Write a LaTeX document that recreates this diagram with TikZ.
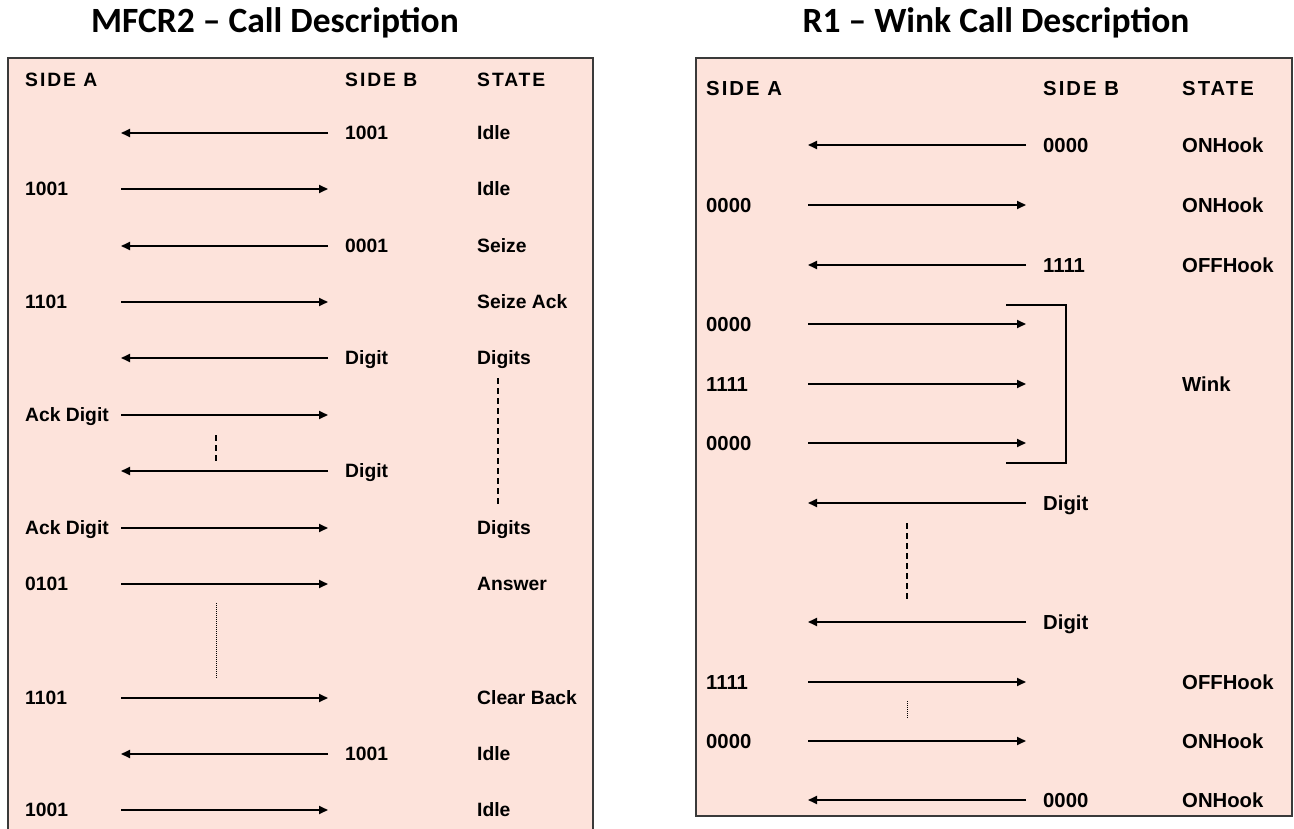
\documentclass[tikz,border=0pt]{standalone}
\usepackage{fontspec}
\usetikzlibrary{arrows.meta}
\newfontfamily\titlefont{Carlito}
\newfontfamily\cellfont{Liberation Sans}
\newfontfamily\hdrfont{Liberation Sans}[LetterSpace=10]
\definecolor{panelfill}{RGB}{253,227,219}
\definecolor{panelline}{RGB}{58,58,58}
\tikzset{
  panel/.style={fill=panelfill,draw=panelline,line width=2pt},
  ttl/.style={anchor=base,inner sep=0,font=\titlefont\bfseries\fontsize{35.5}{40}\selectfont},
  hdrL/.style={anchor=base west,inner sep=0,font=\hdrfont\bfseries\fontsize{19.3}{22}\selectfont},
  hdrR/.style={anchor=base west,inner sep=0,font=\hdrfont\bfseries\fontsize{20.3}{23}\selectfont},
  cellL/.style={anchor=base west,inner sep=0,font=\cellfont\bfseries\fontsize{19.3}{22}\selectfont},
  cellR/.style={anchor=base west,inner sep=0,font=\cellfont\bfseries\fontsize{20.3}{23}\selectfont},
  conn/.style={line width=1.8pt,-{Triangle[length=9pt,width=8pt]}},
  dashline/.style={line width=1.5pt,dash pattern=on 6pt off 4pt},
  dotline/.style={line width=1pt,dash pattern=on 1pt off 1pt},
  bracket/.style={line width=2pt}
}
\begin{document}
\begin{tikzpicture}[x=1pt,y=-1pt]
\path[use as bounding box] (0,0) rectangle (1294,829);

% ---------------- left panel ----------------
\node[ttl] (titleL) at (275,33) {MFCR2 – Call Description};
\draw[panel] (8,58) rectangle (593,840);
\node[hdrL] (hLA) at (25,86.5) {SIDE A};
\node[hdrL] (hLB) at (345,86.5) {SIDE B};
\node[hdrL] (hLS) at (477,86.5) {STATE};

\foreach \y/\f/\t [count=\i] in {133/b/a,189/a/b,246/b/a,302/a/b,358/b/a,415/a/b,471/b/a,528/a/b,584/a/b,698/a/b,754/b/a,810/a/b}{
  \coordinate (La\i) at (121,\y);
  \coordinate (Lb\i) at (328,\y);
  \draw[conn] (L\f\i) -- (L\t\i);
}
\foreach \y/\txt [count=\i] in {189/1001,302/1101,415/Ack Digit,528/Ack Digit,584/0101,698/1101,810/1001}
  \node[cellL] (LA\i) at (25,\y+6.9) {\txt};
\foreach \y/\txt [count=\i] in {133/1001,246/0001,358/Digit,471/Digit,754/1001}
  \node[cellL] (LB\i) at (345,\y+6.9) {\txt};
\foreach \y/\txt [count=\i] in {133/Idle,189/Idle,246/Seize,302/Seize Ack,358/Digits,528/Digits,584/Answer,698/Clear Back,754/Idle,810/Idle}
  \node[cellL] (LS\i) at (477,\y+6.9) {\txt};

\coordinate (ldA) at (498,378); \coordinate (ldB) at (498,506);
\draw[dashline] (ldA) -- (ldB);
\coordinate (lsA) at (216,435); \coordinate (lsB) at (216,462);
\draw[dashline] (lsA) -- (lsB);
\coordinate (lpA) at (216,603); \coordinate (lpB) at (216,678);
\draw[dotline] (lpA) -- (lpB);

% ---------------- right panel ----------------
\node[ttl] (titleR) at (996,33) {R1 – Wink Call Description};
\draw[panel] (696,58) rectangle (1292,816);
\node[hdrR] (hRA) at (706,95.3) {SIDE A};
\node[hdrR] (hRB) at (1043,95.3) {SIDE B};
\node[hdrR] (hRS) at (1182,95.3) {STATE};

\foreach \y/\f/\t [count=\i] in {145/b/a,205/a/b,265/b/a,324/a/b,384/a/b,443/a/b,503/b/a,622/b/a,682/a/b,741/a/b,800/b/a}{
  \coordinate (Ra\i) at (808,\y);
  \coordinate (Rb\i) at (1026,\y);
  \draw[conn] (R\f\i) -- (R\t\i);
}
\foreach \y/\txt [count=\i] in {205/0000,324/0000,384/1111,443/0000,682/1111,741/0000}
  \node[cellR] (RA\i) at (706,\y+7.3) {\txt};
\foreach \y/\txt [count=\i] in {145/0000,265/1111,503/Digit,622/Digit,800/0000}
  \node[cellR] (RB\i) at (1043,\y+7.3) {\txt};
\foreach \y/\txt [count=\i] in {145/ONHook,205/ONHook,265/OFFHook,384/Wink,682/OFFHook,741/ONHook,800/ONHook}
  \node[cellR] (RS\i) at (1182,\y+7.3) {\txt};

\coordinate (bk1) at (1006,305); \coordinate (bk2) at (1066,305);
\coordinate (bk3) at (1066,463); \coordinate (bk4) at (1006,463);
\draw[bracket] (bk1) -- (bk2) -- (bk3) -- (bk4);

\coordinate (rdA) at (907,523); \coordinate (rdB) at (907,599);
\draw[dashline] (rdA) -- (rdB);
\coordinate (rpA) at (907,701); \coordinate (rpB) at (907,719);
\draw[dotline] (rpA) -- (rpB);
\end{tikzpicture}
\end{document}
